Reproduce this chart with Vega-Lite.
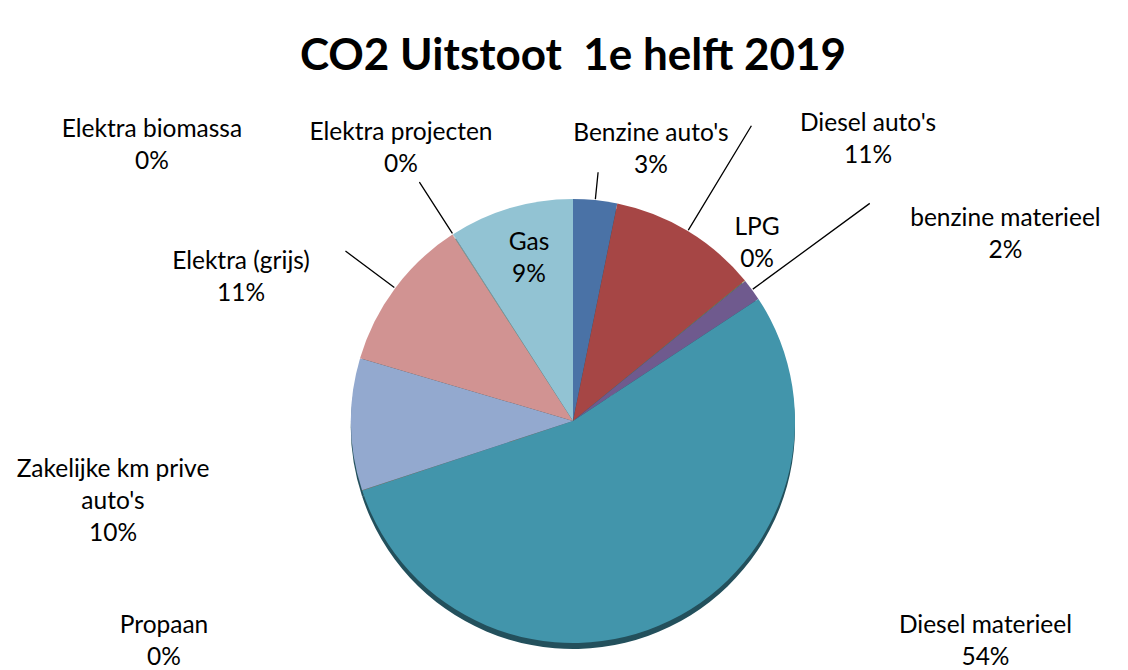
{
  "$schema": "https://vega.github.io/schema/vega-lite/v6.json",
  "width": 1110,
  "height": 498,
  "padding": {"left": 18, "top": 172, "right": 0, "bottom": 0},
  "autosize": {"type": "none"},
  "background": "#ffffff",
  "config": {"view": {"stroke": null}, "font": "Lato"},
  "title": {
    "text": "CO2 Uitstoot\u00a0 1e helft 2019",
    "font": "Lato",
    "fontSize": 44,
    "fontWeight": "bold",
    "color": "#000000",
    "anchor": "middle",
    "offset": 32
  },
  "data": {
    "values": [
      {"idx": 1, "category": "Benzine auto's", "value": 3.2, "label": "Benzine auto's\n3%"},
      {"idx": 2, "category": "Diesel auto's", "value": 10.9, "label": "Diesel auto's\n11%"},
      {"idx": 3, "category": "LPG", "value": 0.03, "label": "LPG\n0%"},
      {"idx": 4, "category": "benzine materieel", "value": 1.6, "label": "benzine materieel\n2%"},
      {"idx": 5, "category": "Diesel materieel", "value": 54.2, "label": "Diesel materieel\n54%"},
      {"idx": 6, "category": "Propaan", "value": 0.03, "label": "Propaan\n0%"},
      {"idx": 7, "category": "Zakelijke km prive auto's", "value": 9.6, "label": "Zakelijke km prive\nauto's\n10%"},
      {"idx": 8, "category": "Elektra (grijs)", "value": 11.3, "label": "Elektra (grijs)\n11%"},
      {"idx": 9, "category": "Elektra biomassa", "value": 0.03, "label": "Elektra biomassa\n0%"},
      {"idx": 10, "category": "Elektra projecten", "value": 0.03, "label": "Elektra projecten\n0%"},
      {"idx": 11, "category": "Gas", "value": 9.08, "label": "Gas\n9%"}
    ]
  },
  "transform": [
    {"stack": "value", "groupby": [], "sort": [{"field": "idx", "order": "ascending"}], "as": ["v0", "v1"]}
  ],
  "layer": [
    {
      "mark": {"type": "arc", "radius": 222, "color": "#23505c", "yOffset": 6},
      "encoding": {
        "theta": {"field": "v0", "type": "quantitative", "scale": {"domain": [0, 100]}},
        "theta2": {"field": "v1"}
      }
    },
    {
      "mark": {"type": "arc", "radius": 222},
      "encoding": {
        "theta": {"field": "v0", "type": "quantitative", "scale": {"domain": [0, 100]}},
        "theta2": {"field": "v1"},
        "color": {
          "field": "category",
          "type": "nominal",
          "legend": null,
          "scale": {
            "domain": ["Benzine auto's", "Diesel auto's", "LPG", "benzine materieel", "Diesel materieel", "Propaan", "Zakelijke km prive auto's", "Elektra (grijs)", "Elektra biomassa", "Elektra projecten", "Gas"],
            "range": ["#4a72a6", "#a64645", "#87a24a", "#6f5a8e", "#4295ab", "#db843d", "#93a9cf", "#d19392", "#b9cd96", "#a99bbd", "#92c3d3"]
          }
        }
      }
    },
    {
      "transform": [{"filter": "datum.idx === 1"}],
      "mark": {"type": "arc", "radius": 250, "radius2": 223, "padAngle": 3.14159, "fillOpacity": 0, "stroke": "#000000", "strokeWidth": 1.3},
      "encoding": {"theta": {"field": "v0", "type": "quantitative", "scale": {"domain": [0, 100]}}, "theta2": {"field": "v1"}}
    },
    {
      "transform": [{"filter": "datum.idx === 2"}],
      "mark": {"type": "arc", "radius": 345, "radius2": 223, "padAngle": 3.14159, "fillOpacity": 0, "stroke": "#000000", "strokeWidth": 1.3},
      "encoding": {"theta": {"field": "v0", "type": "quantitative", "scale": {"domain": [0, 100]}}, "theta2": {"field": "v1"}}
    },
    {
      "transform": [{"filter": "datum.idx === 4"}],
      "mark": {"type": "arc", "radius": 368, "radius2": 223, "padAngle": 3.14159, "fillOpacity": 0, "stroke": "#000000", "strokeWidth": 1.3},
      "encoding": {"theta": {"field": "v0", "type": "quantitative", "scale": {"domain": [0, 100]}}, "theta2": {"field": "v1"}}
    },
    {
      "transform": [{"filter": "datum.idx === 8 || datum.idx === 10"}],
      "mark": {"type": "arc", "radius": 284, "radius2": 223, "padAngle": 3.14159, "fillOpacity": 0, "stroke": "#000000", "strokeWidth": 1.3},
      "encoding": {"theta": {"field": "v0", "type": "quantitative", "scale": {"domain": [0, 100]}}, "theta2": {"field": "v1"}}
    },
    {
      "transform": [{"filter": "datum.idx === 1"}],
      "mark": {"type": "text", "radius": 297.4, "thetaOffset": 0.2653, "fontSize": 24.5, "lineBreak": "\n", "lineHeight": 32, "align": "center", "baseline": "middle", "color": "#000000"},
      "encoding": {"theta": {"field": "v0", "type": "quantitative", "scale": {"domain": [0, 100]}}, "text": {"field": "label", "type": "nominal"}}
    },
    {
      "transform": [{"filter": "datum.idx === 2"}],
      "mark": {"type": "text", "radius": 418.6, "thetaOffset": 0.581, "fontSize": 24.5, "lineBreak": "\n", "lineHeight": 32, "align": "center", "baseline": "middle", "color": "#000000"},
      "encoding": {"theta": {"field": "v0", "type": "quantitative", "scale": {"domain": [0, 100]}}, "text": {"field": "label", "type": "nominal"}}
    },
    {
      "transform": [{"filter": "datum.idx === 3"}],
      "mark": {"type": "text", "radius": 266.7, "thetaOffset": -0.1243, "fontSize": 24.5, "lineBreak": "\n", "lineHeight": 32, "align": "center", "baseline": "middle", "color": "#000000"},
      "encoding": {"theta": {"field": "v0", "type": "quantitative", "scale": {"domain": [0, 100]}}, "text": {"field": "label", "type": "nominal"}}
    },
    {
      "transform": [{"filter": "datum.idx === 4"}],
      "mark": {"type": "text", "radius": 477.3, "thetaOffset": 0.2459, "fontSize": 24.5, "lineBreak": "\n", "lineHeight": 32, "align": "center", "baseline": "middle", "color": "#000000"},
      "encoding": {"theta": {"field": "v0", "type": "quantitative", "scale": {"domain": [0, 100]}}, "text": {"field": "label", "type": "nominal"}}
    },
    {
      "transform": [{"filter": "datum.idx === 5"}],
      "mark": {"type": "text", "radius": 460.6, "thetaOffset": 1.0437, "fontSize": 24.5, "lineBreak": "\n", "lineHeight": 32, "align": "center", "baseline": "middle", "color": "#000000"},
      "encoding": {"theta": {"field": "v0", "type": "quantitative", "scale": {"domain": [0, 100]}}, "text": {"field": "label", "type": "nominal"}}
    },
    {
      "transform": [{"filter": "datum.idx === 6"}],
      "mark": {"type": "text", "radius": 457.5, "thetaOffset": -0.1461, "fontSize": 24.5, "lineBreak": "\n", "lineHeight": 32, "align": "center", "baseline": "middle", "color": "#000000"},
      "encoding": {"theta": {"field": "v0", "type": "quantitative", "scale": {"domain": [0, 100]}}, "text": {"field": "label", "type": "nominal"}}
    },
    {
      "transform": [{"filter": "datum.idx === 7"}],
      "mark": {"type": "text", "radius": 462.6, "thetaOffset": 0.2105, "fontSize": 24.5, "lineBreak": "\n", "lineHeight": 32, "align": "center", "baseline": "middle", "color": "#000000"},
      "encoding": {"theta": {"field": "v0", "type": "quantitative", "scale": {"domain": [0, 100]}}, "text": {"field": "label", "type": "nominal"}}
    },
    {
      "transform": [{"filter": "datum.idx === 8"}],
      "mark": {"type": "text", "radius": 368.1, "thetaOffset": 0.1601, "fontSize": 24.5, "lineBreak": "\n", "lineHeight": 32, "align": "center", "baseline": "middle", "color": "#000000"},
      "encoding": {"theta": {"field": "v0", "type": "quantitative", "scale": {"domain": [0, 100]}}, "text": {"field": "label", "type": "nominal"}}
    },
    {
      "transform": [{"filter": "datum.idx === 9"}],
      "mark": {"type": "text", "radius": 511.8, "thetaOffset": -0.3918, "fontSize": 24.5, "lineBreak": "\n", "lineHeight": 32, "align": "center", "baseline": "middle", "color": "#000000"},
      "encoding": {"theta": {"field": "v0", "type": "quantitative", "scale": {"domain": [0, 100]}}, "text": {"field": "label", "type": "nominal"}}
    },
    {
      "transform": [{"filter": "datum.idx === 10"}],
      "mark": {"type": "text", "radius": 335.4, "thetaOffset": 0.034, "fontSize": 24.5, "lineBreak": "\n", "lineHeight": 32, "align": "center", "baseline": "middle", "color": "#000000"},
      "encoding": {"theta": {"field": "v0", "type": "quantitative", "scale": {"domain": [0, 100]}}, "text": {"field": "label", "type": "nominal"}}
    },
    {
      "transform": [{"filter": "datum.idx === 11"}],
      "mark": {"type": "text", "radius": 183.4, "thetaOffset": 0.3283, "fontSize": 24.5, "lineBreak": "\n", "lineHeight": 32, "align": "center", "baseline": "middle", "color": "#000000"},
      "encoding": {"theta": {"field": "v0", "type": "quantitative", "scale": {"domain": [0, 100]}}, "text": {"field": "label", "type": "nominal"}}
    }
  ]
}
